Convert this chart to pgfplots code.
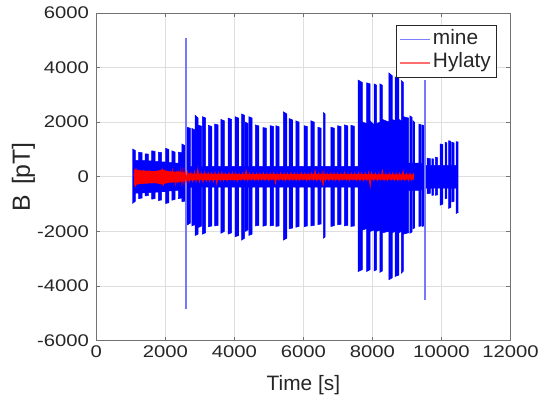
\documentclass[border=0pt]{standalone}
\usepackage{pgfplots}
\pgfplotsset{compat=1.18}
\usepackage{pgfplotstable}
\usepgfplotslibrary{fillbetween}
\usepackage{fontspec}
\setmainfont{Liberation Sans}
\newfontfamily\tickfont{Liberation Sans}[FakeStretch=1.2]
\pgfplotsset{longline/.style={legend image code/.code={\draw[##1] (0pt,0pt) -- (22.5pt,0pt);}}}
\definecolor{spikeblue}{RGB}{120,120,255}
\definecolor{legblue}{RGB}{125,125,255}
\definecolor{legred}{RGB}{255,110,110}

\pgfplotstableread{
x up lo
1046 1020 -980
1130 960 -900
1130 600 -600
1225 600 -600
1225 900 -800
1325 880 -780
1325 590 -590
1415 590 -590
1415 840 -700
1510 830 -690
1510 580 -580
1605 580 -580
1605 950 -820
1705 930 -800
1705 560 -560
1795 560 -560
1795 900 -870
1895 880 -850
1895 540 -540
2005 540 -540
2005 1040 -980
2105 1000 -950
2105 520 -520
2190 520 -520
2190 950 -860
2285 900 -830
2285 500 -500
2380 500 -500
2380 900 -800
2460 880 -780
2460 490 -490
2480 490 -490
2480 1200 -910
2555 1150 -900
2555 400 -400
2625 400 -400
2625 1810 -1770
2725 1780 -1700
2725 380 -380
2770 380 -380
2770 1770 -1800
2845 1720 -1760
2845 380 -380
2865 380 -380
2865 2250 -2150
2950 2150 -2100
2950 380 -380
2970 380 -380
2970 1880 -1850
3055 1850 -1800
3055 380 -380
3075 380 -380
3075 2200 -2100
3170 2150 -2050
3170 380 -380
3250 380 -380
3250 1880 -1830
3350 1840 -1800
3350 380 -380
3430 380 -380
3430 1930 -1800
3530 1900 -1780
3530 380 -380
3610 380 -380
3610 2100 -2070
3710 2050 -2000
3710 380 -380
3820 380 -380
3820 2150 -2100
3920 2100 -2050
3920 380 -380
4020 380 -380
4020 2200 -2200
4120 2150 -2150
4120 380 -380
4210 380 -380
4210 2300 -2320
4295 2250 -2250
4295 380 -380
4315 380 -380
4315 2000 -2000
4390 1950 -1950
4390 380 -380
4420 380 -380
4420 2200 -2150
4515 2150 -2100
4515 380 -380
4610 380 -380
4610 1900 -1800
4710 1860 -1780
4710 380 -380
4830 380 -380
4830 1800 -1810
4930 1780 -1780
4930 380 -380
5040 380 -380
5040 1870 -1800
5135 1840 -1780
5135 380 -380
5200 380 -380
5200 1870 -1820
5295 1830 -1800
5295 380 -380
5420 380 -380
5420 2380 -2320
5520 2300 -2250
5520 380 -380
5590 380 -380
5590 2130 -1900
5685 2080 -1880
5685 380 -380
5780 380 -380
5780 2050 -1850
5875 2000 -1820
5875 380 -380
6020 380 -380
6020 1870 -1830
6115 1840 -1800
6115 380 -380
6220 380 -380
6220 2050 -1800
6315 2000 -1780
6315 380 -380
6420 380 -380
6420 1810 -1750
6515 1780 -1730
6515 380 -380
6580 380 -380
6580 2350 -2250
6630 2300 -2200
6630 380 -380
6800 380 -380
6800 1810 -1820
6900 1780 -1790
6900 380 -380
6990 380 -380
6990 1870 -1760
7090 1840 -1740
7090 380 -380
7190 380 -380
7190 1900 -1800
7290 1860 -1780
7290 380 -380
7380 380 -380
7380 1880 -1820
7480 1850 -1800
7480 380 -380
7590 380 -380
7590 3540 -3470
7710 3450 -3400
7710 2000 -1950
7835 1950 -1900
7835 3440 -3470
7935 3400 -3400
7935 2050 -2000
8050 1900 -1950
8050 3400 -3450
8125 3350 -3400
8125 1950 -2000
8220 2000 -1950
8220 3400 -3500
8290 3350 -3450
8290 2100 -2050
8480 2000 -2000
8480 3800 -3770
8575 3700 -3700
8575 2100 -2050
8660 2050 -2000
8660 3650 -3650
8770 3600 -3600
8770 2100 -2050
8840 2050 -2000
8840 3520 -3530
8900 3450 -3450
8900 2200 -2100
9050 2150 -2050
9050 500 -500
9085 500 -500
9085 2230 -2070
9150 2180 -2020
9150 500 -500
9180 500 -500
9180 2050 -1900
9220 2000 -1880
9220 500 -500
9345 500 -500
9345 1930 -1820
9410 1900 -1800
9410 480 -480
9440 480 -480
9440 1900 -1820
9490 1870 -1800
9490 420 -420
9583 420 -420
9583 680 -620
9679 660 -610
9679 420 -420
9727 420 -420
9727 660 -680
9775 650 -670
9775 420 -420
9823 420 -420
9823 715 -680
9890 700 -660
9890 420 -420
9966 420 -420
9966 1200 -1040
10043 1180 -1000
10043 420 -420
10110 420 -420
10110 1260 -800
10158 1240 -790
10158 420 -420
10207 420 -420
10207 1320 -1160
10274 1300 -1120
10274 420 -420
10302 420 -420
10302 1260 -920
10370 1240 -900
10370 420 -420
10427 420 -420
10427 1285 -1345
10495 1270 -1300
}\envelope

\pgfplotstableread{
x up lo
1094 260 -300
1300 230 -260
1700 200 -230
1900 260 -280
2100 200 -220
2600 150 -160
2700 120 -130
4000 100 -110
6000 95 -105
9200 90 -105
}\redenv

\begin{document}
\begin{tikzpicture}
\begin{axis}[
  at={(0pt,0pt)}, anchor=south west,
  scale only axis, width=312.75pt, height=247.5pt,
  xmin=0, xmax=12000, ymin=-6000, ymax=6000,
  xtick={0,2000,4000,6000,8000,10000,12000},
  ytick={-6000,-4000,-2000,0,2000,4000,6000},
  scaled ticks=false,
  /pgf/number format/1000 sep={},
  /pgf/number format/assume math mode=true,
  grid=major,
  major grid style={line width=0.4pt, draw=black!13},
  tick align=inside,
  major tick length=3pt,
  tick style={black!55, line width=0.4pt},
  axis line style={black!55, line width=0.5pt},
  xticklabel style={font=\tickfont\fontsize{12.75pt}{15pt}\selectfont, text=black!85},
  yticklabel style={font=\tickfont\fontsize{12.75pt}{15pt}\selectfont, text=black!85, xshift=-2pt},
  xlabel={Time [s]},
  ylabel={B\hspace{0.12em} [pT]},
  xlabel style={at={(axis description cs:0.5,-0.1515)}, anchor=base, font=\fontsize{15.75pt}{18pt}\selectfont, text=black!85},
  ylabel style={at={(axis description cs:-0.1607,0.5)}, anchor=base, font=\fontsize{18.75pt}{22pt}\selectfont, text=black!85},
  legend cell align=left,
  legend style={at={(0.9664,0.9636)}, anchor=north east, draw=black!85, line width=0.5pt, fill=white,
    font=\fontsize{15.75pt}{18pt}\selectfont, text=black!85, inner xsep=2.5pt, inner ysep=2pt, row sep=0pt,
    nodes={inner sep=1.5pt, text height=11pt, text depth=3.7pt}},
]
\addplot[name path=U, draw=blue, line width=0.4pt, forget plot] table[x=x, y=up] {\envelope};
\addplot[name path=L, draw=blue, line width=0.4pt, forget plot] table[x=x, y=lo] {\envelope};
\addplot[blue, forget plot] fill between[of=U and L];
\addplot[spikeblue, line width=1.3pt, forget plot] coordinates {(2590,5080) (2590,-4860)};
\addplot[spikeblue, line width=1.1pt, forget plot] coordinates {(9526,3550) (9526,-4500)};
\addplot[name path=RU, draw=none, forget plot] table[x=x, y=up] {\redenv};
\addplot[name path=RL, draw=none, forget plot] table[x=x, y=lo] {\redenv};
\addplot[red, forget plot] fill between[of=RU and RL];
\addplot[red, line width=0.8pt, forget plot] coordinates {
(1094,0) (1110,250) (1130,-380) (1150,310) (1170,-290) (1190,240) (1220,-260) (1250,220) (1280,-250) (1310,190)
(1340,-230) (1370,240) (1400,-200) (1430,180) (1460,-260) (1490,210) (1520,-190) (1550,230) (1580,-220) (1610,170)
(1640,-240) (1670,200) (1700,-180) (1730,220) (1760,-200) (1790,190) (1820,-260) (1850,230) (1880,-280) (1910,300)
(1940,-320) (1970,260) (2000,-240) (2030,200) (2060,-220) (2090,180) (2120,-190) (2150,210) (2180,-200) (2210,170)
(2240,-210) (2270,190) (2300,-180) (2330,200) (2360,-230) (2390,220) (2420,-200) (2450,180) (2480,-190) (2510,170)
(2540,-180) (2570,160) (2600,-170)
(2640,150) (2690,-160) (2740,130) (2790,-140) (2840,160) (2890,-130) (2940,250) (2990,-150) (3040,120) (3090,-170)
(3140,140) (3190,-120) (3240,130) (3290,-140) (3340,110) (3390,-150) (3440,130) (3490,-230) (3540,120) (3590,-110)
(3640,140) (3690,-120) (3740,100) (3790,-130) (3840,120) (3890,-100) (3940,130) (3990,-120) (4040,110) (4090,-130)
(4140,100) (4190,-110) (4240,120) (4290,-100) (4340,200) (4390,-120) (4440,110) (4490,-100) (4540,120) (4590,-110)
(4640,100) (4690,-120) (4740,110) (4790,-90) (4840,120) (4890,-110) (4940,100) (4990,-120) (5040,110) (5090,-100)
(5140,120) (5190,-220) (5240,100) (5290,-110) (5340,120) (5390,-100) (5440,110) (5490,-120) (5540,100) (5590,-110)
(5640,130) (5690,-100) (5740,110) (5790,-120) (5840,100) (5890,-110) (5940,120) (5990,-100) (6040,110) (6090,-120)
(6140,100) (6190,-110) (6240,120) (6290,-100) (6340,200) (6390,-120) (6440,110) (6490,-130) (6540,120) (6570,-320)
(6600,130) (6640,-110) (6690,100) (6740,-120) (6790,110) (6840,-100) (6890,120) (6940,-110) (6990,100) (7040,-120)
(7090,110) (7140,-100) (7190,130) (7240,-110) (7290,100) (7340,-120) (7390,110) (7440,-100) (7490,120) (7540,-110)
(7590,130) (7640,-120) (7690,110) (7740,-130) (7790,120) (7840,-110) (7890,130) (7935,-320) (7980,120) (8040,-110)
(8090,100) (8140,-120) (8190,110) (8240,-100) (8290,200) (8340,-110) (8390,100) (8440,-120) (8490,110) (8540,-100)
(8590,120) (8640,-110) (8690,100) (8740,-120) (8790,110) (8840,-100) (8890,180) (8940,-110) (8990,100) (9040,-120)
(9090,110) (9140,-100) (9190,80) (9200,0)
};
\addlegendimage{longline, legblue, line width=1.3pt}
\addlegendentry{mine}
\addlegendimage{longline, legred, line width=1.0pt}
\addlegendentry{Hylaty}
\end{axis}
\path[use as bounding box] (-72.75pt,-45pt) rectangle (334.5pt,257.25pt);
\end{tikzpicture}
\end{document}
